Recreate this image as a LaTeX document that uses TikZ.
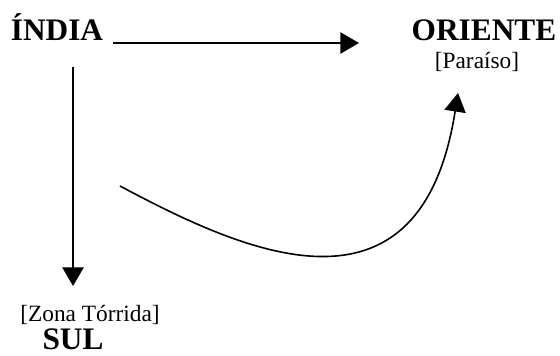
\documentclass[tikz,border=0pt]{standalone}
\usepackage{fontspec}
\setmainfont{Liberation Serif}
\usetikzlibrary{arrows.meta,positioning}
\tikzset{place/.style={font=\bfseries\fontsize{23.5}{26}\selectfont, inner sep=0pt, anchor=base},
         note/.style={font=\fontsize{17.5}{20}\selectfont, inner sep=0pt, anchor=base},
         way/.style={-{Triangle[length=14pt,width=16pt]}, line width=1.2pt}
}

\begin{document}
\begin{tikzpicture}[x=0.75pt,y=-0.75pt]
    \useasboundingbox (0,0) rectangle (560,356);
        % places
        \node[place] (india)   at (57,41)  {ÍNDIA};
        \node[place] (oriente) at (484,41) {ORIENTE};
        \node[note]  (paraiso) at (477,69) {[Paraíso]};
        \node[note]  (zona)    at (90,321) {[Zona Tórrida]};
        \node[place] (sul)     at (73,349) {SUL};
        % arrow ends
        \coordinate (a0) at (113,43);
        \coordinate (a1) at (359,43);
        \coordinate (b0) at (73,67);
        \coordinate (b1) at (73,286);
        \coordinate (c0) at (120,186);
        \coordinate (c1) at (458,93);
        \draw[way] (a0) -- (a1);
        \draw[way] (b0) -- (b1);
        \draw[way] (c0) .. controls (240,250) and (420,335) .. (c1);
\end{tikzpicture}
\end{document}
